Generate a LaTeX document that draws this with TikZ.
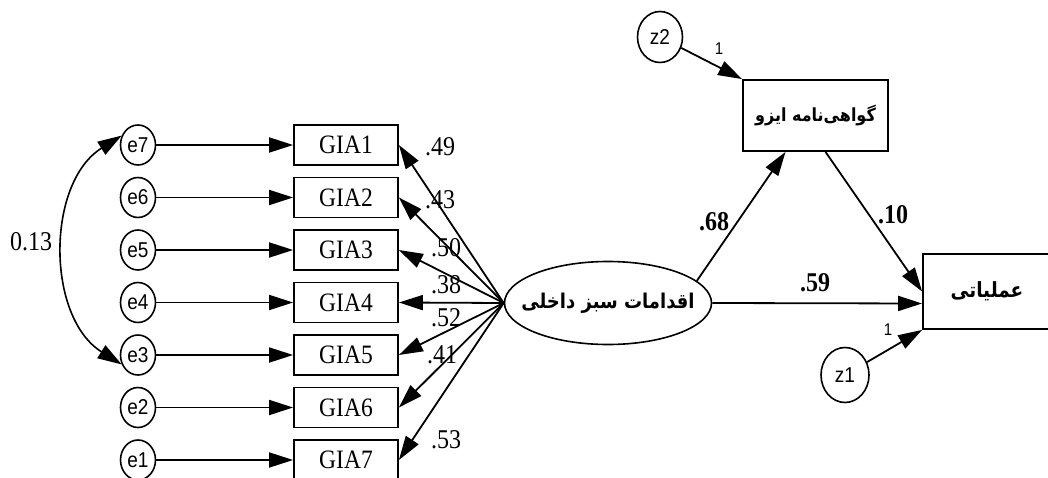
\documentclass[tikz,border=0pt]{standalone}
\usepackage{fontspec}
\usepackage{graphicx}
\setmainfont{Liberation Serif}
\newfontfamily\arialf{Liberation Sans}
\newfontfamily\arabicfont[Script=Arabic]{DejaVu Sans}
\TeXXeTstate=1
\usetikzlibrary{arrows.meta,shapes.geometric,calc}
\newcommand{\vs}[1]{\scalebox{1}[1.13]{#1}}
\tikzset{
  err/.style={draw,ellipse,line width=1.6pt,minimum width=35pt,minimum height=40pt,inner sep=0pt,font=\arialf\fontsize{19}{19}\selectfont},
  obs/.style={draw,rectangle,line width=1.8pt,minimum width=104pt,minimum height=40pt,inner sep=0pt,font=\fontsize{23.5}{23.5}\selectfont},
  big/.style={draw,rectangle,line width=1.8pt,inner sep=0pt},
  lat/.style={draw,ellipse,line width=1.6pt,minimum width=207pt,minimum height=83pt,inner sep=0pt},
  fa/.style={font=\arabicfont\bfseries,inner sep=0pt},
  arr/.style={line width=1.8pt,-{Triangle[length=24pt,width=15pt]}},
  coef/.style={font=\fontsize{24}{24}\selectfont,inner sep=0pt},
  bcoef/.style={font=\fontsize{24}{24}\selectfont\bfseries,inner sep=0pt},
  one/.style={font=\arialf\fontsize{15}{15}\selectfont,inner sep=0pt},
}
\begin{document}
\begin{tikzpicture}[x=1pt,y=-1pt]
\useasboundingbox (0,0) rectangle (1048,478);
\clip (0,0) rectangle (1048,478);
% error terms and indicators
\foreach \i/\y/\e in {1/145/7,2/197.5/6,3/250/5,4/302.5/4,5/355/3,6/407.5/2,7/460/1}{
  \node[err] (e\e) at (138,\y) {\vs{e\e}};
  \node[obs] (g\i) at (346,\y) {\vs{GIA\i}};
  \draw[arr] (e\e) -- (g\i);
}
% latent
\node[lat] (lat) at (608,303) {};
\node[fa] (latt) at (lat.center) {\fontsize{18}{18}\selectfont\vs{\beginR اقدامات سبز داخلی\endR}};
\node[big,minimum width=145pt,minimum height=71pt] (iso) at (815.5,115.5) {\arabicfont\bfseries\fontsize{16}{16}\selectfont\vs{\beginR گواهی‌نامه ایزو\endR}};
\node[big,minimum width=128pt,minimum height=75pt] (op) at (987,291.5) {\arabicfont\bfseries\fontsize{18.5}{18.5}\selectfont\vs{\beginR عملیاتی\endR}};
\node[err,minimum width=45pt,minimum height=51pt] (z2) at (660,37) {\vs{z2}};
\node[err,minimum width=48pt,minimum height=55pt] (z1) at (845,375) {\vs{z1}};
% loadings
\foreach \i in {1,...,7}{ \draw[arr] (lat.west) -- (g\i.east); }
% structural paths
\draw[arr] (lat.14) -- ($(iso.south)+(-30,0)$);
\draw[arr] ($(iso.south)+(10,0)$) -- (op.west);
\draw[arr] (lat.east) -- ($(op.west)+(0,12)$);
\draw[arr] (z2) -- (iso.north west);
\draw[arr] (z1) -- (op.south west);
% covariance
\draw[line width=1.6pt,{Triangle[length=24pt,width=15pt]}-{Triangle[length=24pt,width=15pt]}] (e7.150) to[out=212,in=148,looseness=1.0] (e3.210);
% labels
\node[coef] (l1) at (440,147) {\vs{.49}};
\node[coef] (l2) at (440,200) {\vs{.43}};
\node[coef] (l3) at (446,248) {\vs{.50}};
\node[coef] (l4) at (446,285) {\vs{.38}};
\node[coef] (l5) at (446,318) {\vs{.52}};
\node[coef] (l6) at (442,355) {\vs{.41}};
\node[coef] (l7) at (446,440) {\vs{.53}};
\node[coef] (cv) at (31,242) {\vs{0.13}};
\node[bcoef] (p1) at (714,222) {\vs{.68}};
\node[bcoef] (p2) at (893,215) {\vs{.10}};
\node[bcoef] (p3) at (815,283) {\vs{.59}};
\node[one] (o1) at (719,49) {\vs{1}};
\node[one] (o2) at (888,330) {\vs{1}};
\end{tikzpicture}
\end{document}
